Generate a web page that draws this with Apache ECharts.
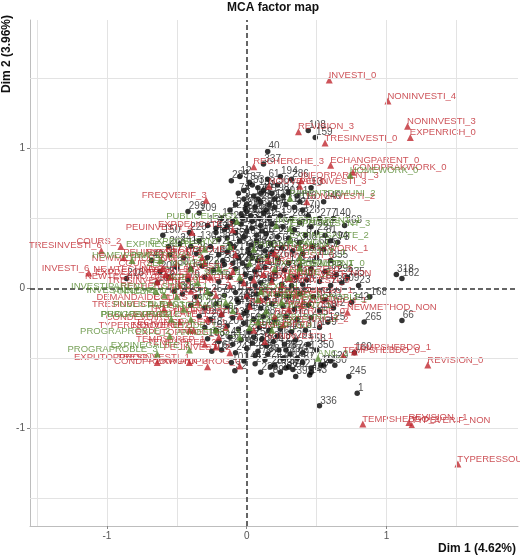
<!DOCTYPE html>
<html>
<head>
<meta charset="utf-8">
<script src="https://cdn.jsdelivr.net/npm/echarts@6/dist/echarts.min.js"></script>
<style>
html,body{margin:0;padding:0;background:#fff}
#chart{width:520px;height:557px}
</style>
</head>
<body>
<div id="chart"></div>
<script>
// axis ticks and reference lines
var xTicks = [-1, 0, 1];
var yTicks = [-1, 0, 1];
var gridX = [-1.5, -1, -0.5, 0.5, 1, 1.5];
var gridY = [-1.5, -1, -0.5, 0.5, 1, 1.5];

// individuals: [id, dim1, dim2]
var individuals = [
  [1,0.79,-0.75],[16,0.53,-0.55],[32,-0.085,-0.59],[39,0.35,-0.63],[40,0.15,0.98],[43,0.46,-0.60],
  [47,-0.22,0.40],[50,0.63,-0.55],[66,1.11,-0.23],[73,0.65,0.33],[101,-0.11,-0.53],[105,-0.25,-0.45],
  [108,0.44,1.13],[109,-0.34,0.54],[116,0.38,0.62],[118,-0.04,0.53],[143,0.45,-0.62],[159,0.49,1.08],
  [162,1.11,0.07],[209,0.68,0.04],[214,-0.01,0.57],[220,-0.41,0.40],[245,0.73,-0.63],[262,0.33,-0.58],
  [265,0.84,-0.24],[275,-0.14,0.36],[277,0.52,0.50],[289,-0.11,0.77],[299,-0.42,0.55],[318,1.07,0.10],
  [336,0.52,-0.84],[337,0.12,0.89],[367,0.28,-0.57],[24,0.55,-0.55],[160,0.77,-0.46],[216,-0.86,0.07],
  [104,-0.64,0.04],
  [12,-0.05,0.80],[87,0.02,0.76],[133,0.08,0.72],[21,0.12,0.70],[198,0.18,0.68],[56,0.22,0.74],
  [301,0.26,0.66],[77,0.30,0.69],[145,0.05,0.66],[9,-0.02,0.64],[252,0.10,0.62],[184,0.16,0.60],
  [64,0.20,0.58],[311,0.28,0.60],[92,0.34,0.58],[170,0.40,0.56],[28,0.44,0.52],[239,0.06,0.58],
  [5,-0.08,0.60],[121,-0.12,0.56],[346,0.00,0.55],[68,0.12,0.54],[190,0.24,0.52],[283,0.32,0.50],
  [35,0.38,0.47],[152,0.46,0.44],[227,0.50,0.40],[81,0.56,0.38],[14,-0.18,0.50],[259,-0.10,0.48],
  [113,-0.04,0.46],[326,0.04,0.48],[60,0.10,0.45],[205,0.18,0.46],[97,0.26,0.44],[172,0.34,0.42],
  [8,0.42,0.38],[294,0.60,0.34],[137,-0.28,0.45],[233,-0.22,0.43],[19,-0.16,0.42],[352,-0.08,0.40],
  [71,0.00,0.41],[186,0.07,0.38],[126,0.14,0.39],[249,0.22,0.37],[45,0.30,0.36],[308,0.38,0.33],
  [165,0.47,0.30],[93,0.55,0.28],
  [241,-0.48,0.32],[17,-0.40,0.30],[130,-0.34,0.34],[272,-0.26,0.30],[58,-0.20,0.35],[199,-0.12,0.32],
  [3,-0.05,0.34],[317,0.03,0.31],[84,0.10,0.30],[156,0.17,0.32],[229,0.25,0.29],[36,0.33,0.27],
  [288,0.40,0.25],[112,0.50,0.22],[355,0.60,0.20],[67,-0.55,0.24],[178,-0.45,0.22],[26,-0.36,0.25],
  [246,-0.28,0.22],[99,-0.20,0.24],[321,-0.14,0.26],[141,-0.06,0.22],[11,0.02,0.25],[204,0.08,0.20],
  [75,0.15,0.23],[260,0.22,0.21],[127,0.30,0.18],[340,0.38,0.16],[52,0.46,0.14],[183,0.56,0.12],
  [296,0.64,0.10],[30,-0.50,0.15],[149,-0.40,0.14],[222,-0.32,0.16],[88,-0.24,0.13],[314,-0.16,0.17],
  [6,-0.08,0.14],[174,0.00,0.16],[253,0.06,0.12],[119,0.13,0.15],[62,0.20,0.11],[333,0.27,0.13],
  [195,0.35,0.08],[41,0.43,0.06],[268,0.52,0.05],[135,0.72,0.08],[79,-0.42,0.06],[305,-0.30,0.08],
  [18,-0.20,0.05],[211,-0.12,0.08],[154,-0.04,0.05],[95,0.03,0.07],[280,0.10,0.04],[37,0.18,0.06],
  [188,0.25,0.03],[324,0.32,0.02],[70,0.40,0.03],[236,0.60,0.02],
  [123,-0.46,-0.04],[13,-0.36,-0.06],[257,-0.26,-0.04],[90,-0.16,-0.05],[181,-0.08,-0.03],[343,0.00,-0.06],
  [48,0.07,-0.04],[218,0.14,-0.07],[110,0.22,-0.05],[293,0.30,-0.06],[25,0.38,-0.04],[164,0.48,-0.06],
  [331,0.56,-0.08],[83,-0.40,-0.12],[200,-0.30,-0.14],[2,-0.22,-0.11],[274,-0.14,-0.13],[139,-0.06,-0.10],
  [59,0.02,-0.12],[312,0.10,-0.14],[176,0.18,-0.11],[29,0.26,-0.13],[244,0.34,-0.15],[115,0.44,-0.12],
  [358,0.52,-0.16],[72,0.62,-0.14],[192,-0.34,-0.20],[20,-0.26,-0.22],[285,-0.18,-0.19],[131,-0.10,-0.21],
  [54,-0.02,-0.18],[226,0.05,-0.22],[98,0.12,-0.20],[302,0.20,-0.23],[167,0.28,-0.20],[10,0.36,-0.22],
  [255,0.46,-0.21],[125,0.58,-0.24],[348,-0.30,-0.28],[63,-0.22,-0.30],[207,-0.14,-0.27],[31,-0.06,-0.29],
  [279,0.02,-0.31],[147,0.09,-0.28],[86,0.16,-0.30],[230,0.24,-0.29],[15,0.32,-0.31],[319,0.42,-0.30],
  [179,0.52,-0.28],
  [103,-0.28,-0.36],[266,-0.20,-0.38],[44,-0.12,-0.35],[197,-0.04,-0.37],[338,0.04,-0.39],[76,0.11,-0.36],
  [213,0.19,-0.38],[22,0.27,-0.40],[291,0.35,-0.37],[158,0.44,-0.40],[65,-0.18,-0.44],[247,-0.08,-0.46],
  [128,0.00,-0.43],[309,0.08,-0.45],[38,0.15,-0.47],[185,0.23,-0.44],[270,0.31,-0.47],[94,0.40,-0.46],
  [350,0.50,-0.44],[144,-0.02,-0.52],[27,0.06,-0.54],[224,0.13,-0.51],[106,0.20,-0.55],[298,0.26,-0.50],
  [57,0.40,-0.53],[173,0.46,-0.57],[235,0.10,-0.60],[89,0.18,-0.62],[327,0.30,-0.56],[120,0.60,-0.52],
  [150,-0.60,0.38],[263,-0.56,0.30],[42,-0.68,0.20],[206,-0.62,0.12],[330,-0.52,-0.02],[82,-0.56,0.08],
  [194,0.24,0.80],[286,0.32,0.78],[53,0.46,0.72],[117,0.36,0.66],[240,0.55,0.62],[140,0.62,0.50],
  [363,0.70,0.45],[23,0.80,0.02],[168,0.88,-0.06],[342,0.75,-0.10],
  [4,-0.02,0.70],[33,0.04,0.74],[49,0.10,0.68],[61,0.15,0.78],[74,-0.06,0.68],[85,0.00,0.60],
  [96,0.08,0.64],[107,0.14,0.56],[114,0.20,0.64],[129,-0.03,0.50],[136,0.03,0.52],[142,0.09,0.50],
  [151,0.16,0.50],[157,-0.14,0.44],[163,-0.02,0.37],[169,0.04,0.43],[175,0.11,0.41],[182,-0.09,0.30],
  [187,0.01,0.28],[193,0.07,0.34],[201,0.13,0.27],[208,-0.17,0.20],[212,-0.03,0.18],[217,0.04,0.22],
  [223,-0.10,0.18],[228,0.18,0.26],[234,-0.01,0.10],[238,0.06,0.02],[243,-0.07,-0.08],[248,0.00,-0.16],
  [254,0.05,-0.35],[258,-0.02,-0.25],[264,0.14,-0.41],[269,0.22,-0.34],[273,0.06,-0.48],[278,-0.10,-0.40],
  [282,0.28,-0.44],[287,0.17,-0.56],[292,0.24,-0.60],[297,0.36,-0.50]
];

// active categories: [name, dim1, dim2]
var activeCats = [
  ['INVESTI_0',0.59,1.49],['NONINVESTI_4',1.01,1.34],['NONINVESTI_3',1.15,1.16],['EXPENRICH_0',1.17,1.08],
  ['REVISION_3',0.37,1.12],['TRESINVESTI_0',0.56,1.04],['RECHERCHE_3',0.05,0.87],['ECHANGPARENT_0',0.60,0.88],
  ['CONDPRAKWORK_0',0.76,0.83],['INFORPARENT_3',0.39,0.77],['PEUINVESTI_3',0.38,0.73],['NOUVEAU_0',0.16,0.73],
  ['NONINVESTI_2',0.43,0.62],['FREQVERIF_3',-0.29,0.63],['EXPDELICATE_3',-0.10,0.42],['PEUINVESTI_4',-0.39,0.40],
  ['COURS_2',-0.90,0.30],['TRESINVESTI_6',-1.04,0.27],['INVESTI_6',-1.13,0.11],['PEUINVESTI_5',-0.88,0.22],
  ['TEMPSHEBDO_1',0.77,-0.455],['TEMPSHEBDO_0',0.69,-0.48],['REVISION_0',1.295,-0.548],['TEMPSHEBDO_2',0.83,-0.97],
  ['REVISION_-1',1.16,-0.96],['TYPEVERIF_NON',1.18,-0.98],['TYPERESSOURCE_0',1.51,-1.257],
  ['NEWMETHOD_NON',0.72,-0.17],['NONINVEST_NON',0.31,0.07],['EXPENRICH_1',0.39,-0.12],['NONINVESTI_1',0.13,-0.38],
  ['CONDPRAKWORK_1',0.20,0.25],['EXPUTOPPROG_1',-0.64,-0.53],['TRESINVESTI_1',-0.41,-0.53],
  ['CONDPRAKWORK_3',-0.28,-0.56],['EXPUTOPPROG_0',-0.05,-0.555],['PEUINVESTI_2',-0.12,-0.46],
  ['TEMPSPREP_1',-0.30,-0.40],['NOUVEAU_2',-0.41,-0.30],['DEMANDAIDE_1',-0.55,-0.10],['TRESINVESTI_5',-0.59,-0.15],
  ['CONDEVOIRS_1',-0.48,-0.24],
  ['INVESTI_1',-0.30,0.18],['INVESTI_2',-0.10,0.12],['INVESTI_3',0.05,0.06],['INVESTI_4',-0.22,-0.05],
  ['INVESTI_5',-0.42,0.10],['TRESINVESTI_2',0.10,-0.08],['TRESINVESTI_3',-0.18,-0.18],['TRESINVESTI_4',-0.48,0.02],
  ['PEUINVESTI_0',0.15,0.20],['PEUINVESTI_1',-0.05,-0.20],['NONINVESTI_0',0.25,0.02],['COURS_0',-0.35,-0.10],
  ['COURS_1',0.08,0.16],['COURS_3',-0.60,0.14],['FREQVERIF_0',0.30,-0.15],['FREQVERIF_1',-0.12,0.02],
  ['FREQVERIF_2',-0.26,0.08],['REVISION_1',0.02,-0.13],['REVISION_2',-0.32,0.22],['RECHERCHE_0',0.20,-0.20],
  ['RECHERCHE_1',-0.08,0.24],['RECHERCHE_2',-0.40,-0.02],['ECHANGPARENT_1',-0.15,-0.28],['ECHANGPARENT_2',0.12,0.10],
  ['CONDPRAKWORK_2',-0.02,0.04],['EXPENRICH_2',0.26,-0.26],['EXPDELICATE_0',0.18,0.05],['EXPDELICATE_1',-0.28,-0.22],
  ['EXPDELICATE_2',-0.55,0.08],['EXPUTOPPROG_2',-0.20,-0.35],['NOUVEAU_1',0.35,-0.05],['NEWMETHOD_OUI',-0.50,0.18],
  ['NEWTECHNO_1',-0.64,0.05],['NEWTECHNO_0',-0.58,0.10],['TEMPSPREP_0',0.05,-0.30],['TEMPSPREP_2',-0.22,-0.42],
  ['TYPEVERIF_OUI',0.00,-0.05],['TYPERESSOURCE_1',-0.38,-0.30]
];

// supplementary categories: [name, dim1, dim2]
var supCats = [
  ['PUBLICELEVG1',-0.07,0.48],['PARENTDEMUNI_2',0.31,0.645],['HOMEWORK_0',0.74,0.81],
  ['INVESTIPARENT_1',0.21,0.45],['EXPROBLSYNT_3',0.31,0.43],['EXPINEGALITE_2',0.31,0.345],
  ['ANC_1',0.38,0.29],['STATUT_0',0.38,0.22],['FORMCONT_0',0.38,0.145],['ANNEEPRO_1',0.08,-0.08],
  ['ETUDE_3',0.02,-0.28],['ANC_2',0.51,-0.50],['EXPINEGALITE_3',-0.41,-0.44],['PROGRAPROBLE_3',-0.64,-0.47],
  ['INVESTIELEVE_1',-0.59,-0.05],['PUBLICELEVG2',-0.54,-0.22],['INVESTIEVAL_2',-0.82,0.20],
  ['SEXE_F',-0.05,0.08],['SEXE_H',0.10,-0.02],['AGE_1',-0.20,0.14],['AGE_2',0.02,0.18],['AGE_3',-0.35,0.04],
  ['ANC_3',-0.15,-0.10],['STATUT_1',-0.28,-0.02],['FORMCONT_1',0.14,-0.16],['PUBLICELEVG3',-0.45,-0.15],
  ['PARENTDEMUNI_0',-0.10,-0.16],['PARENTDEMUNI_1',0.05,0.28],['EXPINEGALITE_0',-0.30,0.28],
  ['EXPINEGALITE_1',0.20,0.14],['PROGRAPROBLE_0',-0.40,-0.22],['PROGRAPROBLE_1',0.25,-0.10],
  ['PROGRAPROBLE_2',-0.55,-0.34],['EXPROBLSYNT_1',-0.12,0.30],['EXPROBLSYNT_2',0.08,-0.24],
  ['ETUDE_1',-0.22,-0.30],['ETUDE_2',0.30,0.08],['ANNEEPRO_2',-0.50,-0.06],['ANNEEPRO_3',-0.05,-0.35],
  ['ZEP_OUI',0.18,-0.30],['ZEP_NON',-0.40,0.14],['HOMEWORK_1',-0.62,0.20],['INVESTIPARENT_2',-0.65,-0.02]
];

// labels on the left side of negative-dim1 points, except these
var rightLabelled = ['PEUINVESTI_5', 'INVESTIEVAL_2'];

var FONT = 'Liberation Sans, Arial, sans-serif';
var RED = '#c0282f';
var GREEN = '#568a30';

function catData(list) {
  return list.map(function (d) {
    var left = d[1] < 0 && rightLabelled.indexOf(d[0]) < 0;
    return {
      name: d[0],
      value: [d[1], d[2]],
      label: left
        ? { position: 'left', distance: 0, offset: [4, -5] }
        : { position: 'right', distance: 0, offset: [-4, -5] }
    };
  });
}

var chart = echarts.init(document.getElementById('chart'), null, { renderer: 'canvas' });

var option = {
  backgroundColor: '#fff',
  animation: false,
  textStyle: { fontFamily: FONT },
  grid: { left: 30, right: 2, top: 20, bottom: 31 },
  xAxis: {
    type: 'value', min: -1.55, max: 1.94,
    axisLine: { show: true, onZero: false, lineStyle: { color: '#bdbdbd' } },
    axisTick: { show: true, customValues: xTicks, length: 3, lineStyle: { color: '#888' } },
    axisLabel: { customValues: xTicks, color: '#555', fontSize: 10, margin: 5, fontFamily: FONT },
    splitLine: { show: false }
  },
  yAxis: {
    type: 'value', min: -1.70, max: 1.92,
    axisLine: { show: true, onZero: false, lineStyle: { color: '#bdbdbd' } },
    axisTick: { show: true, customValues: yTicks, length: 3, lineStyle: { color: '#888' } },
    axisLabel: { customValues: yTicks, color: '#555', fontSize: 10, margin: 5, fontFamily: FONT },
    splitLine: { show: false }
  },
  graphic: [
    { type: 'text', left: 227, top: 2, style: { text: 'MCA factor map', font: 'bold 12px ' + FONT, fill: '#111' } },
    { type: 'text', right: 4, bottom: 2, style: { text: 'Dim 1 (4.62%)', font: 'bold 12px ' + FONT, fill: '#111' } },
    { type: 'text', x: 1, y: 93, rotation: Math.PI / 2, style: { text: 'Dim 2 (3.96%)', font: 'bold 12px ' + FONT, fill: '#111' } }
  ],
  series: [
    {
      type: 'scatter', data: [], z: 1, silent: true,
      markLine: {
        silent: true, symbol: 'none', label: { show: false }, animation: false,
        lineStyle: { color: '#e3e3e3', width: 1, type: 'solid' },
        data: gridX.map(function (v) { return { xAxis: v }; })
          .concat(gridY.map(function (v) { return { yAxis: v }; }))
      }
    },
    {
      type: 'scatter', data: [], z: 2, silent: true,
      markLine: {
        silent: true, symbol: 'none', label: { show: false }, animation: false,
        lineStyle: { color: '#333', width: 1.5, type: [5, 3] },
        data: [{ xAxis: 0 }, { yAxis: 0 }]
      }
    },
    {
      name: 'individuals', type: 'scatter', z: 3,
      symbol: 'circle', symbolSize: 5.5,
      itemStyle: { color: '#000' },
      label: {
        show: true, formatter: '{b}', position: 'right', distance: 0, offset: [-2, -5],
        fontSize: 10, color: '#222', fontFamily: FONT
      },
      data: individuals.map(function (d) { return { name: String(d[0]), value: [d[1], d[2]] }; })
    },
    {
      name: 'active', type: 'scatter', z: 4,
      symbol: 'triangle', symbolSize: 7,
      itemStyle: { color: RED },
      label: { show: true, formatter: '{b}', fontSize: 9.5, color: RED, fontFamily: FONT },
      data: catData(activeCats)
    },
    {
      name: 'supplementary', type: 'scatter', z: 5,
      symbol: 'triangle', symbolSize: 7,
      itemStyle: { color: GREEN },
      label: { show: true, formatter: '{b}', fontSize: 9.5, color: GREEN, fontFamily: FONT },
      data: catData(supCats)
    }
  ]
};

chart.setOption(option);
</script>
</body>
</html>
